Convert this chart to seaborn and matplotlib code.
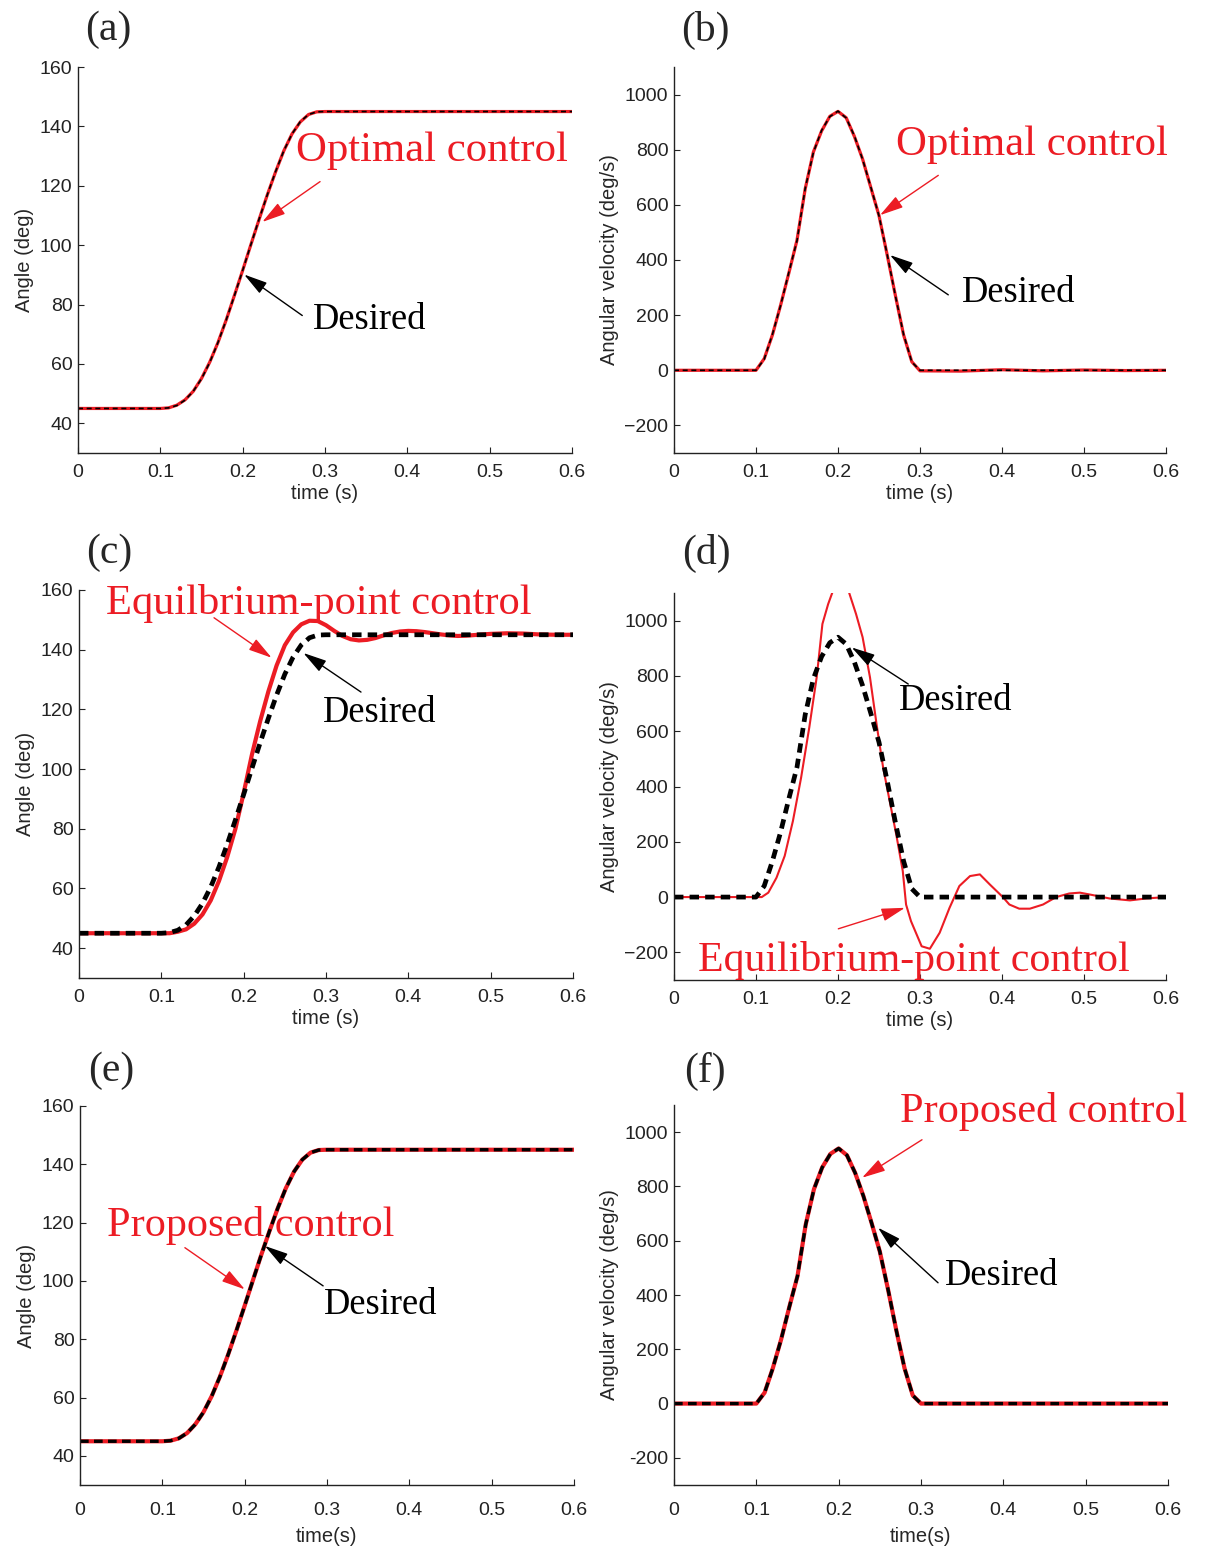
import matplotlib
matplotlib.use("Agg")
import matplotlib.pyplot as plt
import seaborn as sns

# ---- data ----
des_t = [0.00, 0.10, 0.11, 0.12, 0.13, 0.14, 0.15, 0.16, 0.17, 0.18, 0.19, 0.20,
         0.21, 0.22, 0.23, 0.24, 0.25, 0.26, 0.27, 0.28, 0.29, 0.30, 0.60]
des_angle = [45, 45, 45.2, 46, 47.8, 50.8, 55, 60.5, 67.2, 74.8, 83, 91.5,
             100.2, 108.8, 117, 124.8, 131.8, 137.5, 141.6, 144, 144.9, 145, 145]
des_vel = [0, 0, 40, 130, 235, 355, 470, 660, 790, 870, 920, 940,
           915, 850, 765, 665, 560, 420, 270, 130, 30, 0, 0]

opt_t = [0.00, 0.10, 0.11, 0.12, 0.13, 0.14, 0.15, 0.16, 0.17, 0.18, 0.19, 0.20,
         0.21, 0.22, 0.23, 0.24, 0.25, 0.26, 0.27, 0.28, 0.29, 0.30, 0.35, 0.40,
         0.45, 0.50, 0.55, 0.60]
opt_angle = [45, 45, 45.2, 46.1, 47.9, 50.8, 55.1, 60.6, 67.2, 74.8, 83.1, 91.5,
             100.2, 108.7, 117, 124.7, 131.8, 137.5, 141.5, 144, 144.9, 145, 145, 145,
             145, 145, 145, 145]
opt_vel = [0, 0, 42, 128, 236, 352, 472, 658, 792, 868, 921, 939,
           916, 848, 766, 663, 561, 418, 271, 128, 31, -2, -3, 2,
           -2, 1, -1, 0]

ep_angle_t = [0.00, 0.11, 0.12, 0.13, 0.14, 0.15, 0.16, 0.17, 0.18, 0.19, 0.20,
              0.21, 0.22, 0.23, 0.24, 0.25, 0.26, 0.27, 0.28, 0.29, 0.30,
              0.31, 0.32, 0.33, 0.34, 0.35, 0.36, 0.37, 0.38, 0.39, 0.40,
              0.41, 0.42, 0.43, 0.44, 0.45, 0.46, 0.47, 0.48, 0.49, 0.50,
              0.52, 0.54, 0.56, 0.58, 0.60]
ep_angle = [45, 45, 45.5, 46.3, 48.2, 51.3, 56, 62.5, 70.5, 80, 92,
            104.8, 116, 126, 134.7, 141.5, 145.8, 148.5, 149.7, 149.6, 148.2,
            146.3, 144.6, 143.5, 143.1, 143.3, 143.9, 144.8, 145.6, 146.1, 146.3,
            146.2, 145.9, 145.5, 145.1, 144.8, 144.6, 144.7, 144.9, 145.1, 145.3,
            145.5, 145.4, 145.1, 145, 145]

ep_vel_t = [0.000, 0.107, 0.115, 0.125, 0.135, 0.145, 0.155, 0.165, 0.174, 0.181,
            0.188, 0.194, 0.204, 0.214, 0.222, 0.230, 0.239, 0.247, 0.255, 0.263,
            0.271, 0.279, 0.283, 0.289, 0.302, 0.312, 0.324, 0.336, 0.348, 0.361,
            0.373, 0.385, 0.401, 0.409, 0.421, 0.434, 0.450, 0.466, 0.482, 0.495,
            0.511, 0.531, 0.556, 0.576, 0.600]
ep_vel = [0, 0, 16, 70, 149, 275, 432, 614, 795, 988,
          1060, 1109, 1200, 1097, 1024, 940, 795, 626, 469, 348,
          227, 94, -27, -87, -178, -187, -129, -39, 40, 76,
          82, 46, 0, -27, -42, -42, -27, 0, 13, 16,
          7, -5, -12, -5, 0]

prop_t = list(des_t)
prop_angle = [45, 45, 45.2, 46, 47.8, 50.8, 55, 60.5, 67.2, 74.8, 83, 91.5,
              100.2, 108.8, 117, 124.8, 131.8, 137.5, 141.6, 144, 144.9, 145, 145]
prop_vel = [0, 0, 40, 130, 235, 355, 470, 660, 790, 870, 920, 940,
            915, 850, 765, 665, 560, 420, 270, 130, 30, 0, 0]

x_ticks = [0, 0.1, 0.2, 0.3, 0.4, 0.5, 0.6]
x_labels = ["0", "0.1", "0.2", "0.3", "0.4", "0.5", "0.6"]
ang_ticks = [40, 60, 80, 100, 120, 140, 160]
vel_ticks = [-200, 0, 200, 400, 600, 800, 1000]
vel_labels_minus = ["\u2212200", "0", "200", "400", "600", "800", "1000"]
vel_labels_hyphen = ["-200", "0", "200", "400", "600", "800", "1000"]

RED = "#EC1C24"
W, H = 1207, 1546

sns.set_style("ticks")
plt.rcParams.update({
    "font.family": ["Liberation Sans", "DejaVu Sans"],
    "xtick.direction": "in",
    "ytick.direction": "in",
    "xtick.major.size": 4,
    "ytick.major.size": 4,
    "xtick.major.width": 0.8,
    "ytick.major.width": 0.8,
    "axes.linewidth": 1.0,
    "axes.edgecolor": "#222222",
    "xtick.color": "#222222",
    "ytick.color": "#222222",
})

fig = plt.figure(figsize=(W / 100, H / 100), dpi=100)


def make_ax(l, r, t, b):
    return fig.add_axes([l / W, 1 - b / H, (r - l) / W, (b - t) / H])


def style(ax, ylim, yticks, ylabels, ylab, xlab, xpad=8, xlabpad=2):
    ax.set_xlim(0, 0.6)
    ax.set_ylim(*ylim)
    ax.set_xticks(x_ticks)
    ax.set_xticklabels(x_labels)
    ax.set_yticks(yticks)
    ax.set_yticklabels(ylabels)
    ax.tick_params(axis="x", labelsize=14, pad=xpad)
    ax.tick_params(axis="y", labelsize=14, pad=4)
    ax.set_xlabel(xlab, fontsize=14.5, labelpad=xlabpad)
    ax.set_ylabel(ylab, fontsize=14.5, labelpad=4)
    sns.despine(ax=ax)


def note(ax, txt, color, size, pos, tail, head):
    ax.text(pos[0], pos[1], txt, color=color, fontsize=size,
            family="Liberation Serif", ha="left", va="baseline", clip_on=False)
    ax.annotate("", xy=head, xytext=tail, annotation_clip=False,
                arrowprops=dict(arrowstyle="-|>,head_length=0.8,head_width=0.22",
                                color=color, lw=1.0, mutation_scale=18,
                                shrinkA=0, shrinkB=0))


ang_labels = [str(v) for v in ang_ticks]

# (a)
ax = make_ax(78, 572, 67, 453)
sns.lineplot(x=opt_t, y=opt_angle, ax=ax, color=RED, linewidth=2.3)
sns.lineplot(x=des_t, y=des_angle, ax=ax, color="black", linewidth=1.2,
             linestyle=(0, (3, 2.2)))
style(ax, (30, 160), ang_ticks, ang_labels, "Angle (deg)", "time (s)")
note(ax, "Optimal control", RED, 30.8, (0.2648, 128.2), (0.294, 121.4), (0.2238, 107.8))
note(ax, "Desired", "black", 26.3, (0.2858, 71.8), (0.2724, 76.3), (0.2018, 90.1))

# (b)
ax = make_ax(674, 1166, 67, 453)
sns.lineplot(x=opt_t, y=opt_vel, ax=ax, color=RED, linewidth=2.3)
sns.lineplot(x=des_t, y=des_vel, ax=ax, color="black", linewidth=1.2,
             linestyle=(0, (3, 2.2)))
style(ax, (-300, 1100), vel_ticks, vel_labels_minus, "Angular velocity (deg/s)", "time (s)")
note(ax, "Optimal control", RED, 30.8, (0.2707, 779.5), (0.3223, 707), (0.2512, 562.6))
note(ax, "Desired", "black", 26.3, (0.351, 249), (0.3345, 273.6), (0.2634, 418))

# (c)
ax = make_ax(79, 573, 590, 978)
sns.lineplot(x=ep_angle_t, y=ep_angle, ax=ax, color=RED, linewidth=3.0)
sns.lineplot(x=des_t, y=des_angle, ax=ax, color="black", linewidth=3.4,
             linestyle=(0, (2, 1.3)))
style(ax, (30, 160), ang_ticks, ang_labels, "Angle (deg)", "time (s)")
note(ax, "Equilbrium-point control", RED, 30.6, (0.0328, 152.1), (0.164, 150.7), (0.234, 137.3))
note(ax, "Desired", "black", 26.3, (0.2967, 115.7), (0.3425, 125.8), (0.2725, 138.9))

# (d)
ax = make_ax(674, 1166, 593, 980)
sns.lineplot(x=ep_vel_t, y=ep_vel, ax=ax, color=RED, linewidth=1.5)
sns.lineplot(x=des_t, y=des_vel, ax=ax, color="black", linewidth=3.4,
             linestyle=(0, (2, 1.3)))
style(ax, (-300, 1100), vel_ticks, vel_labels_minus, "Angular velocity (deg/s)", "time (s)")
note(ax, "Desired", "black", 26.3, (0.2748, 676), (0.2857, 770.6), (0.2167, 903))
note(ax, "Equilibrium-point control", RED, 30.2, (0.0296, -268), (0.2004, -114.8), (0.2817, -38.8))

# (e)
ax = make_ax(80, 574, 1106, 1485)
sns.lineplot(x=prop_t, y=prop_angle, ax=ax, color=RED, linewidth=3.0)
sns.lineplot(x=des_t, y=des_angle, ax=ax, color="black", linewidth=2.4,
             linestyle=(0, (2.6, 1.6)))
style(ax, (30, 160), ang_ticks, ang_labels, "Angle (deg)", "time(s)", xpad=12, xlabpad=6)
note(ax, "Proposed control", RED, 30.4, (0.0324, 115.4), (0.1274, 111.4), (0.2002, 97.1))
note(ax, "Desired", "black", 26.3, (0.2961, 88.7), (0.2953, 98.3), (0.2245, 112))

# (f)
ax = make_ax(674, 1168, 1105, 1485)
sns.lineplot(x=prop_t, y=prop_vel, ax=ax, color=RED, linewidth=3.0)
sns.lineplot(x=des_t, y=des_vel, ax=ax, color="black", linewidth=2.4,
             linestyle=(0, (2.6, 1.6)))
style(ax, (-300, 1100), vel_ticks, vel_labels_hyphen, "Angular velocity (deg/s)", "time(s)",
      xpad=12, xlabpad=6)
note(ax, "Proposed control", RED, 30.4, (0.2745, 1038), (0.3012, 972), (0.2284, 832))
note(ax, "Desired", "black", 26.3, (0.329, 438), (0.3207, 445), (0.2478, 648))

# panel letters
letters = ["(a)", "(b)", "(c)", "(d)", "(e)", "(f)"]
letter_pos = [(108, 30), (705, 30), (109, 553), (706, 553), (111, 1071), (705, 1071)]
for s, (px, py) in zip(letters, letter_pos):
    fig.text(px / W, 1 - py / H, s, fontsize=30, family="Liberation Serif",
             ha="center", va="center")

fig.savefig("out.png", dpi=100)
